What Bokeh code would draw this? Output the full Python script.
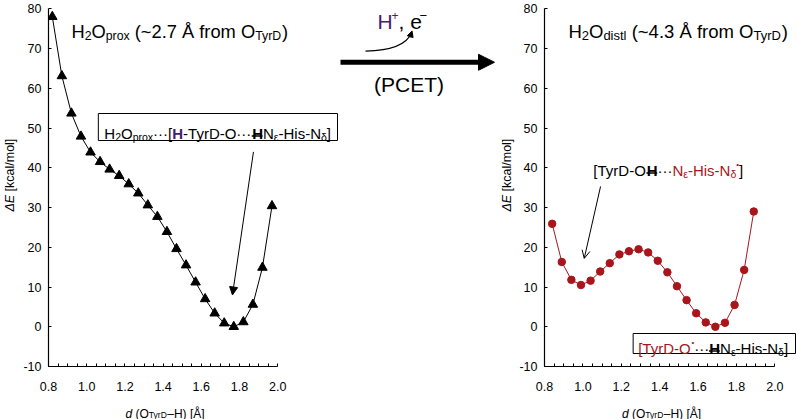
from math import pi
from bokeh.plotting import figure
from bokeh.layouts import row, column
from bokeh.models import (Range1d, FixedTicker, PrintfTickFormatter, Label, Arrow,
                          NormalHead, OpenHead, BoxAnnotation)
from bokeh.embed import file_html
from bokeh.resources import INLINE

# ---------------- data ----------------
prox_d = [0.82, 0.87, 0.92, 0.97, 1.02, 1.07, 1.12, 1.17, 1.22, 1.27, 1.32, 1.37,
          1.42, 1.47, 1.52, 1.57, 1.62, 1.67, 1.72, 1.77, 1.82, 1.87, 1.92, 1.97]
prox_E = [78.0, 63.1, 53.7, 47.9, 43.9, 41.5, 39.6, 38.0, 35.9, 33.6, 30.6, 27.7,
          23.9, 19.6, 15.5, 11.2, 7.0, 3.4, 0.9, 0.0, 1.2, 5.6, 14.9, 30.4]
distl_d = [0.84, 0.89, 0.94, 0.99, 1.04, 1.09, 1.14, 1.19, 1.24, 1.29, 1.34, 1.39,
           1.44, 1.49, 1.54, 1.59, 1.64, 1.69, 1.74, 1.79, 1.84, 1.89]
distl_E = [25.9, 16.3, 11.8, 10.5, 11.6, 13.9, 16.0, 18.2, 19.0, 19.5, 18.7, 16.6,
           13.7, 10.2, 6.7, 3.4, 1.1, 0.0, 1.0, 5.5, 14.3, 29.0]
x_ticks = [0.8, 1.0, 1.2, 1.4, 1.6, 1.8, 2.0]
x_minor = [0.85, 0.9, 0.95, 1.05, 1.1, 1.15, 1.25, 1.3, 1.35, 1.45, 1.5, 1.55,
           1.65, 1.7, 1.75, 1.85, 1.9, 1.95]
y_ticks = [-10, 0, 10, 20, 30, 40, 50, 60, 70, 80]

# ---------------- layout constants (pixels) ----------------
FONT = "Liberation Sans"
TOTAL_W, TOTAL_H = 797, 419
MAIN_H = 397            # height of the panel row
FRAME_B = 366           # frame bottom (y = -10)
Y80 = 8.3               # pixel row of y = 80
YT_L, LW, MW, YT_R = 20, 320, 160, 16
RW = TOTAL_W - YT_L - LW - MW - YT_R
LFL = YT_L + 27         # left frame left edge (x = 0.8)
LX20 = 277.0            # pixel column of x = 2.0 (left)
RFL = YT_L + LW + MW + YT_R + 27
RX20 = 774.3
RED = "#a8161c"
PURPLE = "#46206c"
NB = "\u00a0"

SY = (FRAME_B - Y80) / 90.0
SXL = (LX20 - LFL) / 1.2
SXR = (RX20 - RFL) / 1.2


def yd(py):
    return 80 - (py - Y80) / SY


def xl(px):
    return 0.8 + (px - LFL) / SXL


def xr(px):
    return 0.8 + (px - RFL) / SXR


W = {' ': 278, NB: 278, '(': 333, ')': 333, '+': 584, ',': 278, '-': 333, '.': 278,
     '/': 278, '~': 584, '[': 278, ']': 278, '·': 333, '•': 350, '–': 556, '−': 584,
     'Å': 667, 'Δ': 668, 'ε': 446, 'δ': 556}
for c in "0123456789":
    W[c] = 556
W.update(dict(zip("ABCDEFGHIJKLMNOPQRSTUVWXYZ",
                  [667, 667, 722, 722, 667, 611, 778, 722, 278, 500, 667, 556, 833, 722,
                   778, 667, 778, 722, 667, 611, 722, 667, 944, 667, 667, 611])))
W.update(dict(zip("abcdefghijklmnopqrstuvwxyz",
                  [556, 556, 500, 556, 556, 278, 556, 556, 222, 222, 500, 222, 833, 556,
                   556, 556, 556, 333, 500, 278, 556, 500, 722, 500, 500, 500])))


def tw(s, size):
    return sum(W.get(c, 556) for c in s) * size / 1000.0


def rich(p, x, y, segs, sx=None, sy=None, angle=0.0, baseline="alphabetic"):
    """segs: (text, size, style, color, dy, underline); dy in px, positive = up"""
    off = 0.0
    for seg in segs:
        text, size = seg[0].replace(" ", NB), seg[1]
        style = seg[2] if len(seg) > 2 else "normal"
        color = seg[3] if len(seg) > 3 else "black"
        dy = seg[4] if len(seg) > 4 else 0
        ul = seg[5] if len(seg) > 5 else False
        if angle == 0:
            xo, yo = off, dy
        else:
            xo, yo = -dy, off
        p.add_layout(Label(x=x, y=y, x_offset=xo, y_offset=yo, text=text,
                           text_font=FONT, text_font_size=f"{size}px",
                           text_font_style=style, text_color=color,
                           text_baseline=baseline, text_align="left", angle=angle))
        w = tw(text, size)
        if ul and sx is not None:
            uy = y - 2.6 / sy
            p.add_layout(Arrow(end=None, x_start=x + off / sx, x_end=x + (off + w) / sx,
                               y_start=uy, y_end=uy, line_color="black", line_width=1.5))
        off += w
    return off


def plain_fig(width, height, x0, x1, y0, y1):
    """A figure without axes whose frame fills the canvas; ranges are image pixels."""
    p = figure(width=width, height=height, x_range=Range1d(x0, x1),
               y_range=Range1d(y1, y0), x_axis_type=None, y_axis_type=None,
               output_backend="svg", toolbar_location=None,
               min_border_left=0, min_border_right=0, min_border_top=0,
               min_border_bottom=0)
    p.outline_line_color = None
    p.grid.visible = False
    p.background_fill_color = "white"
    p.border_fill_color = "white"
    return p


def make_fig(width, frame_left_px, canvas_left_px, sx):
    x_end = 0.8 + (canvas_left_px + width - frame_left_px) / sx
    p = figure(width=width, height=MAIN_H, x_range=Range1d(0.8, x_end),
               y_range=Range1d(-10, 80 + Y80 / SY),
               output_backend="svg", toolbar_location=None,
               min_border_left=frame_left_px - canvas_left_px, min_border_right=0,
               min_border_top=0, min_border_bottom=MAIN_H - FRAME_B)
    p.outline_line_color = None
    p.grid.visible = False
    p.background_fill_color = "white"
    p.border_fill_color = "white"
    xa = p.xaxis[0]
    xa.bounds = (0.8, 2.0)
    xa.ticker = FixedTicker(ticks=x_ticks, minor_ticks=x_minor)
    xa.formatter = PrintfTickFormatter(format="%.1f")
    xa.major_tick_in, xa.major_tick_out = 3, 0
    xa.minor_tick_in, xa.minor_tick_out = 3, 0
    xa.minor_tick_line_color = "black"
    xa.major_label_standoff = 15
    ya = p.yaxis[0]
    ya.bounds = (-10, 80)
    ya.ticker = FixedTicker(ticks=y_ticks)
    ya.formatter = PrintfTickFormatter(format="%d")
    ya.major_tick_in, ya.major_tick_out = 3, 0
    ya.minor_tick_line_color = None
    ya.major_label_standoff = 7
    for ax in (xa, ya):
        ax.axis_line_color = "black"
        ax.axis_line_width = 1.2
        ax.major_tick_line_color = "black"
        ax.major_label_text_font = FONT
        ax.major_label_text_font_size = "12.5px"
        ax.major_label_text_color = "black"
    return p


def box(p, l, r, t, b):
    p.add_layout(BoxAnnotation(left=l, right=r, top=t, bottom=b,
                               fill_color=None, fill_alpha=0,
                               line_color="black", line_alpha=1.0, line_width=1))


# ---------------- y-axis titles (narrow strips) ----------------
YT_SEGS = [("ΔE", 12.5, "italic"), (" [kcal/mol]", 12.5)]
ytl = plain_fig(YT_L, MAIN_H, 0, YT_L, 0, MAIN_H)
rich(ytl, 9, 229, YT_SEGS, angle=pi / 2, baseline="middle")
ytr_x0 = YT_L + LW + MW
ytr = plain_fig(YT_R, MAIN_H, ytr_x0, ytr_x0 + YT_R, 0, MAIN_H)
rich(ytr, 506.5, 229, YT_SEGS, angle=pi / 2, baseline="middle")

# ---------------- left panel ----------------
left = make_fig(LW, LFL, YT_L, SXL)
left.line(prox_d, prox_E, line_color="black", line_width=1)
left.scatter(prox_d, prox_E, marker="triangle", size=9.5, color="black")
rich(left, xl(70), yd(31),
     [("H", 18.3), ("2", 12.3, "normal", "black", -4), ("O", 18.3),
      ("prox", 12.3, "normal", "black", -4), (" (~2.7 Å from O", 18.3),
      ("TyrD", 12.3, "normal", "black", -4), (")", 18.3)])
box(left, xl(97), xl(337), yd(113), yd(140))
rich(left, xl(103), yd(133),
     [("H", 15), ("2", 10.5, "normal", "black", -3), ("O", 15),
      ("prox", 10.5, "normal", "black", -3), ("···[", 15),
      ("H", 15, "bold", PURPLE), ("-TyrD-O···", 15),
      ("H", 15, "bold", "black", 0, True), ("N", 15),
      ("ε", 10.5, "normal", "black", -3), ("-His-N", 15),
      ("δ", 10.5, "normal", "black", -3), ("]", 15)], sx=SXL, sy=SY)
left.add_layout(Arrow(x_start=1.873, y_start=44.0, x_end=1.763, y_end=8.0,
                      line_color="black", line_width=1,
                      end=NormalHead(size=8, fill_color="black", line_color="black")))

# ---------------- middle panel ----------------
mx0 = YT_L + LW
mid = plain_fig(MW, MAIN_H, mx0, mx0 + MW, 0, MAIN_H)
mid.add_layout(Label(x=377, y=23, text="H", text_font=FONT, text_font_size="21px",
                     text_color=PURPLE, text_baseline="alphabetic"))
mid.add_layout(Label(x=391, y=16, text="+", text_font=FONT, text_font_size="12px",
                     text_color=PURPLE, text_baseline="alphabetic"))
mid.add_layout(Label(x=398, y=23, text=",\u00a0e", text_font=FONT, text_font_size="21px",
                     text_color="black", text_baseline="alphabetic"))
mid.add_layout(Label(x=419, y=16, text="−", text_font=FONT, text_font_size="13px",
                     text_color="black", text_baseline="alphabetic"))
mid.quadratic(x0=[365], y0=[55], x1=[411], y1=[35], cx=[404], cy=[54],
              line_color="black", line_width=1.2)
mid.add_layout(Arrow(x_start=409.5, y_start=40, x_end=411.5, y_end=33,
                     line_color="black", line_width=1.2,
                     end=NormalHead(size=6, fill_color="black", line_color="black")))
mid.add_layout(Arrow(x_start=337, y_start=67, x_end=494, y_end=67,
                     line_color="black", line_width=5,
                     end=NormalHead(size=16, fill_color="black", line_color="black")))
mid.add_layout(Label(x=373.5, y=91, text="(PCET)", text_font=FONT, text_font_size="21px",
                     text_color="black", text_baseline="alphabetic"))

# ---------------- right panel ----------------
rx0 = YT_L + LW + MW + YT_R
right = make_fig(RW, RFL, rx0, SXR)
right.line(distl_d, distl_E, line_color=RED, line_width=1)
right.scatter(distl_d, distl_E, marker="circle", size=7.5, color=RED)
rich(right, xr(567), yd(31),
     [("H", 18.5), ("2", 13, "normal", "black", -4), ("O", 18.5),
      ("distl", 13, "normal", "black", -4), (" (~4.3 Å from O", 18.5),
      ("TyrD", 13, "normal", "black", -4), (")", 18.5)])
rich(right, xr(592), yd(170),
     [("[TyrD-O", 15), ("H", 15, "bold", "black", 0, True), ("···", 15),
      ("N", 15, "normal", RED), ("ε", 10.5, "normal", RED, -3),
      ("-His-N", 15, "normal", RED), ("δ", 10.5, "normal", RED, -3),
      ("•", 8, "normal", RED, 6), ("]", 15)], sx=SXR, sy=SY)
right.add_layout(Arrow(x_start=1.092, y_start=35.3, x_end=1.007, y_end=17.2,
                       line_color="black", line_width=1,
                       end=OpenHead(size=8, line_color="black", line_width=1)))
box(right, xr(632), xr(795), yd(333), yd(353))
rich(right, xr(637), yd(348),
     [("[TyrD-O", 15, "normal", RED), ("•", 8, "normal", RED, 6), ("···", 15),
      ("H", 15, "bold", "black", 0, True), ("N", 15),
      ("ε", 10.5, "normal", "black", -3), ("-His-N", 15),
      ("δ", 10.5, "normal", "black", -3), ("]", 15)], sx=SXR, sy=SY)

# ---------------- x-axis titles (bottom strip) ----------------
xt = plain_fig(TOTAL_W, TOTAL_H - MAIN_H, 0, TOTAL_W, MAIN_H, TOTAL_H)
for x0 in (125, 621.5):
    rich(xt, x0, 413,
         [("d", 12, "italic"), (" (O", 12), ("TyrD", 8.5, "normal", "black", -1),
          ("–H) [Å]", 12)])

layout = column(row(ytl, left, mid, ytr, right), xt)
open("out.html", "w").write(file_html(layout, INLINE))
